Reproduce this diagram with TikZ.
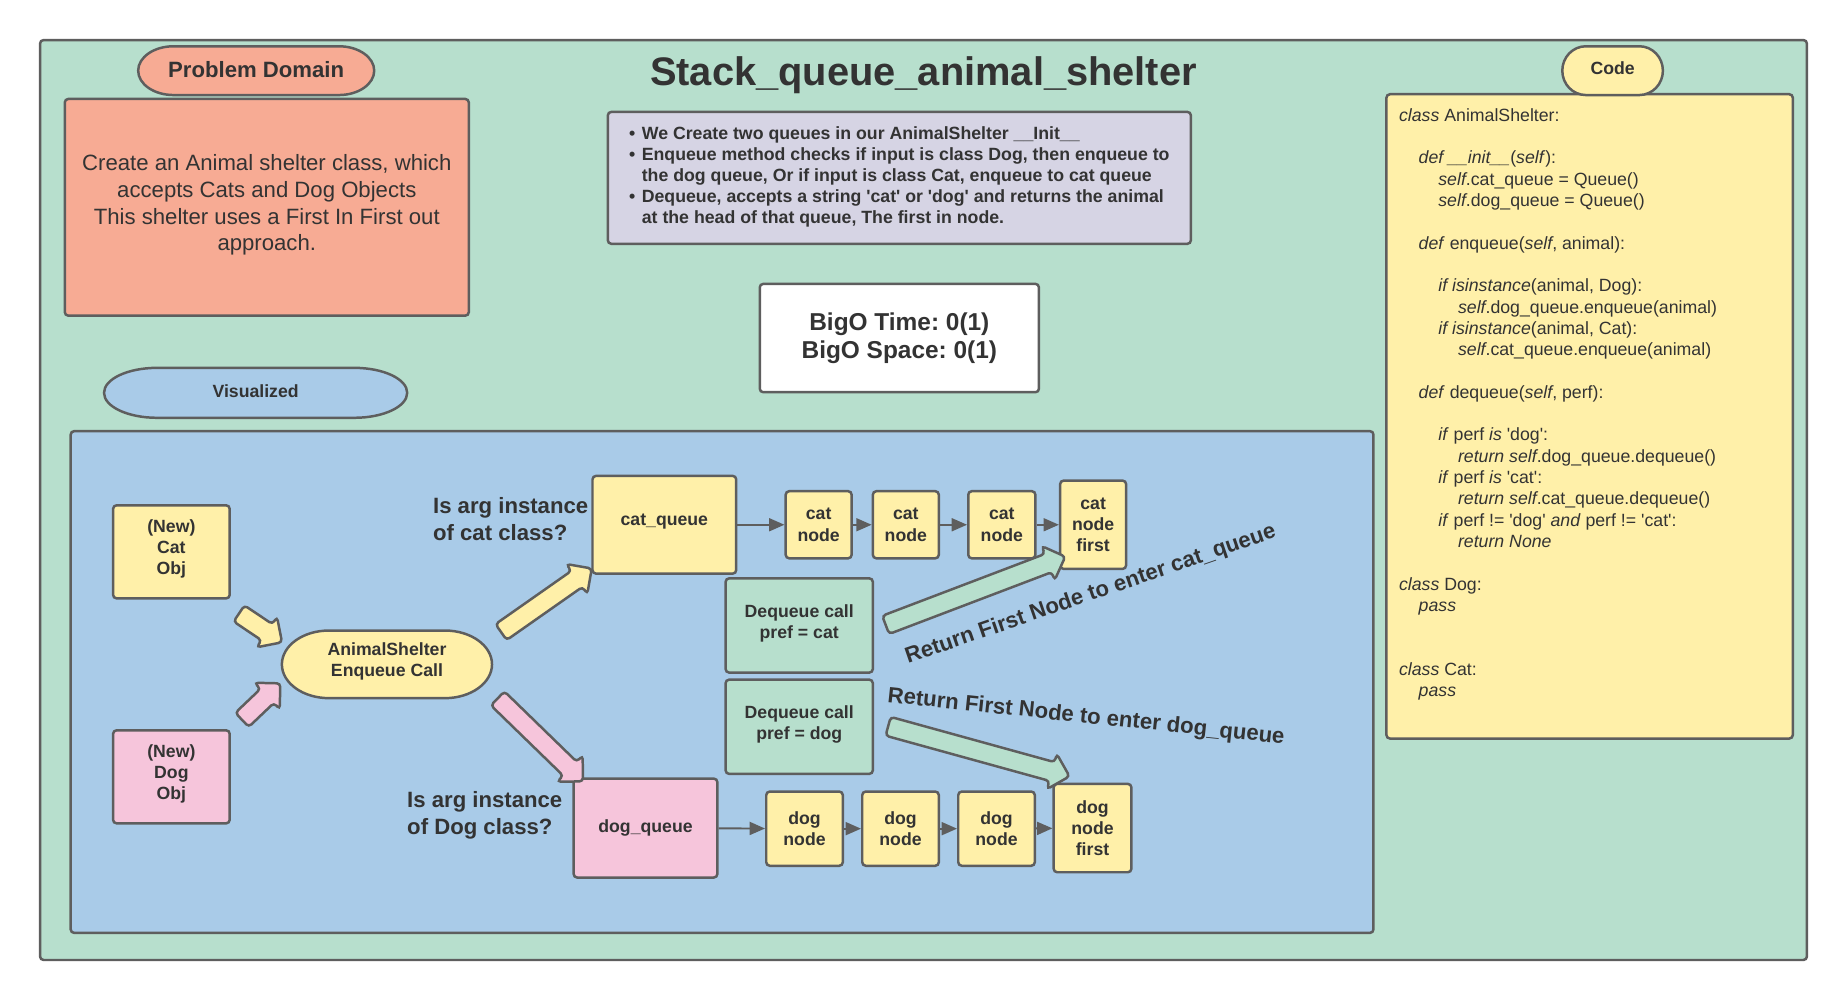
\documentclass[tikz,border=0pt]{standalone}
\usepackage{fontspec}
\setmainfont{Liberation Sans}
\usetikzlibrary{shapes.arrows,arrows.meta,calc}
\frenchspacing
\definecolor{bordc}{HTML}{5E5E5E}
\definecolor{txtc}{HTML}{333333}
\definecolor{mintc}{HTML}{B7DFCD}
\definecolor{salmc}{HTML}{F7AB94}
\definecolor{lavc}{HTML}{D6D4E4}
\definecolor{yelc}{HTML}{FFF0A9}
\definecolor{pinkc}{HTML}{F6C5DB}
\definecolor{bluec}{HTML}{A9CBE8}
\newcommand{\capsuleoutline}[3]{%
  \filldraw[fill=#3, draw=bordc, line width=0.6pt]
    let \p1=(#1.north west), \p2=(#1.south east), \n1={(\y1-\y2)/2} in
    (\x1+#2,\y1) -- (\x2-#2,\y1)
    arc[start angle=90, end angle=-90, x radius=#2, y radius=\n1]
    -- (\x1+#2,\y2)
    arc[start angle=270, end angle=90, x radius=#2, y radius=\n1] -- cycle;}
\newcommand{\blockarrow}[4]{%
  \path let \p1=(#2), \p2=(#3), \n1={atan2(\y2-\y1,\x2-\x1)}, \n2={veclen(\x2-\x1,\y2-\y1)} in
    node[barrow, fill=#4, rotate=\n1, minimum height=\n2] (#1) at ({(\x1+\x2)/2},{(\y1+\y2)/2}) {};}
\newcommand{\cia}{\hspace*{4.75pt}}
\newcommand{\cib}{\hspace*{9.5pt}}
\newcommand{\cic}{\hspace*{14.25pt}}
\begin{document}
\frenchspacing
\begin{tikzpicture}[x=0.1mm,y=-0.1mm,
  panel/.style={draw=bordc, line width=0.6pt, rounded corners=0.3mm, inner sep=0pt, text=txtc},
  sml/.style={font=\fontsize{4.27}{5.12}\selectfont\bfseries, text=txtc, align=center},
  med/.style={font=\fontsize{5.35}{6.54}\selectfont\bfseries, text=txtc, inner sep=0pt},
  conn/.style={draw=bordc, line width=0.45pt, -{Triangle[length=1.3mm,width=1.1mm]}},
  barrow/.style={single arrow, draw=bordc, line width=0.6pt, inner xsep=0pt, inner ysep=0.72mm, minimum width=2.9mm, single arrow head extend=0.72mm, rounded corners=0.3mm},
  capsule/.style={inner sep=0pt, draw=none}]
\fill[white] (0,0) rectangle (1568,849);
\useasboundingbox (0,0) rectangle (1568,849);

% outer panel
\node[panel, fill=mintc, minimum width=150mm, minimum height=78.1mm] (outer) at (784,424.5) {};

% problem domain
\node[capsule, minimum width=19.9mm, minimum height=4mm] (pdcap) at (217.5,60) {};
\capsuleoutline{pdcap}{3mm}{salmc}
\node[med] (pdtext) at (217.5,59) {Problem Domain};
\node[panel, fill=salmc, minimum width=34.3mm, minimum height=18.4mm] (pdbox) at (226.5,176) {};
\node[align=center, inner sep=0pt, text=txtc, font=\fontsize{5.35}{6.46}\selectfont] (pdboxtext) at (226.5,174)
  {Create an Animal shelter class, which\\accepts Cats and Dog Objects\\This shelter uses a First In First out\\approach.};

% title
\node[text=txtc, font=\fontsize{9.62}{11}\selectfont\bfseries] (title) at (784,64) {Stack\_queue\_animal\_shelter};

% bullets
\node[panel, fill=lavc, minimum width=49.5mm, minimum height=11.2mm] (bullets) at (763.5,151) {};
\node[inner sep=0pt, text=txtc, font=\fontsize{4.28}{5.12}\selectfont\bfseries] (bullettext) at (763.5,150.5) {%
  \begin{tabular}{@{}l@{\hspace{0.55mm}}l@{}}
  \textbullet & We Create two queues in our AnimalShelter \_\_Init\_\_\\
  \textbullet & Enqueue method checks if input is class Dog, then enqueue to\\
   & the dog queue, Or if input is class Cat, enqueue to cat queue\\
  \textbullet & Dequeue, accepts a string \textquotesingle cat\textquotesingle{} or \textquotesingle dog\textquotesingle{} and returns the animal\\
   & at the head of that queue, The first in node.
  \end{tabular}};

% BigO
\node[panel, fill=white, minimum width=23.7mm, minimum height=9.2mm, align=center,
  font=\fontsize{5.9}{6.83}\selectfont\bfseries] (bigo) at (763.5,287) {BigO Time: 0(1)\\BigO Space: 0(1)};

% visualized capsule
\node[capsule, minimum width=25.6mm, minimum height=4.1mm] (vizcap) at (217,333.5) {};
\capsuleoutline{vizcap}{4.5mm}{bluec}
\node[sml] (viztext) at (217,332) {Visualized};

% code
\node[panel, fill=yelc, minimum width=34.5mm, minimum height=54.7mm] (codebox) at (1349.5,353.5) {};
\node[capsule, minimum width=8.4mm, minimum height=4mm] (codecap) at (1369,60) {};
\capsuleoutline{codecap}{2mm}{yelc}
\node[sml] (codelabel) at (1369,58) {Code};
\node[anchor=north west, inner sep=0pt, text=txtc, font=\fontsize{4.28}{5.15}\selectfont] (codetext) at (1187,89.5) {%
\begin{tabular}{@{}l@{}}
\textit{class} AnimalShelter:\\
\\
\cia\textit{def \_\_init\_\_}(\textit{self}):\\
\cib\textit{self}.cat\_queue = Queue()\\
\cib\textit{self}.dog\_queue = Queue()\\
\\
\cia\textit{def} enqueue(\textit{self}, animal):\\
\\
\cib\textit{if isinstance}(animal, Dog):\\
\cic\textit{self}.dog\_queue.enqueue(animal)\\
\cib\textit{if isinstance}(animal, Cat):\\
\cic\textit{self}.cat\_queue.enqueue(animal)\\
\\
\cia\textit{def} dequeue(\textit{self}, perf):\\
\\
\cib\textit{if} perf \textit{is} \textquotesingle dog\textquotesingle:\\
\cic\textit{return self}.dog\_queue.dequeue()\\
\cib\textit{if} perf \textit{is} \textquotesingle cat\textquotesingle:\\
\cic\textit{return self}.cat\_queue.dequeue()\\
\cib\textit{if} perf != \textquotesingle dog\textquotesingle{} \textit{and} perf != \textquotesingle cat\textquotesingle:\\
\cic\textit{return None}\\
\\
\textit{class} Dog:\\
\cia\textit{pass}\\
\\
\\
\textit{class} Cat:\\
\cia\textit{pass}
\end{tabular}};

% visual panel
\node[panel, fill=bluec, minimum width=110.6mm, minimum height=42.6mm] (vizpanel) at (613,579) {};

\node[panel, sml, fill=yelc, minimum width=9.9mm, minimum height=7.9mm] (catobj) at (145.5,468.5) {};
\node[sml] (catobjtext) at (145.5,466) {(New)\\Cat\\Obj};
\node[panel, sml, fill=pinkc, minimum width=9.9mm, minimum height=7.9mm] (dogobj) at (145.5,659.5) {};
\node[sml] (dogobjtext) at (145.5,657) {(New)\\Dog\\Obj};

\node[capsule, minimum width=17.7mm, minimum height=5.6mm] (enq) at (328.5,564) {};
\capsuleoutline{enq}{4mm}{yelc}
\node[sml] (enqtext) at (328.5,561.5) {AnimalShelter\\Enqueue Call};

\node[med, align=left, anchor=west] (catq_q) at (367,440.5) {Is arg instance\\of cat class?};
\node[med, align=left, anchor=west] (dogq_q) at (345,692) {Is arg instance\\of Dog class?};

\node[panel, sml, fill=yelc, minimum width=12.2mm, minimum height=8.3mm] (cq) at (564,445.5) {};
\node[sml] (cqtext) at (564,443) {cat\_queue};
\node[panel, sml, fill=yelc, minimum width=5.6mm, minimum height=5.7mm] (cn1) at (695,445.5) {cat\\node};
\node[panel, sml, fill=yelc, minimum width=5.6mm, minimum height=5.7mm] (cn2) at (769,445.5) {cat\\node};
\node[panel, sml, fill=yelc, minimum width=5.7mm, minimum height=5.7mm] (cn3) at (850.5,445.5) {cat\\node};
\node[panel, sml, fill=yelc, minimum width=5.6mm, minimum height=7.5mm] (cnf) at (928,445.5) {cat\\node\\first};

\node[panel, sml, fill=pinkc, minimum width=12.2mm, minimum height=8.4mm] (dq) at (548,703) {dog\_queue};
\node[panel, sml, fill=yelc, minimum width=6.5mm, minimum height=6.3mm] (dn1) at (683,703.5) {dog\\node};
\node[panel, sml, fill=yelc, minimum width=6.5mm, minimum height=6.3mm] (dn2) at (764.5,703.5) {dog\\node};
\node[panel, sml, fill=yelc, minimum width=6.5mm, minimum height=6.3mm] (dn3) at (846,703.5) {dog\\node};
\node[panel, sml, fill=yelc, minimum width=6.6mm, minimum height=7.5mm] (dnf) at (927.5,703) {dog\\node\\first};

\node[panel, sml, fill=mintc, minimum width=12.5mm, minimum height=8mm] (deqcat) at (678.5,531) {};
\node[sml] (deqcattext) at (678.5,529) {Dequeue call\\pref = cat};
\node[panel, sml, fill=mintc, minimum width=12.5mm, minimum height=8mm] (deqdog) at (678.5,617) {};
\node[sml] (deqdogtext) at (678.5,615) {Dequeue call\\pref = dog};

\draw[conn] (cq) -- (cn1);
\draw[conn] (cn1) -- (cn2);
\draw[conn] (cn2) -- (cn3);
\draw[conn] (cn3) -- (cnf);
\draw[conn] (dq) -- (dn1);
\draw[conn] (dn1) -- (dn2);
\draw[conn] (dn2) -- (dn3);
\draw[conn] (dn3) -- (dnf);

\node[med, rotate=19] (retcat) at (926,505) {Return First Node to enter cat\_queue};
\node[med, rotate=-6] (retdog) at (922,609) {Return First Node to enter dog\_queue};

% block arrows
\coordinate (a1s) at (199.5,518.5); \coordinate (a1e) at (236,543);
\coordinate (a2s) at (202.5,614);   \coordinate (a2e) at (235,583);
\coordinate (a3s) at (422,539);     \coordinate (a3e) at (499,485);
\coordinate (a4s) at (419.5,590);   \coordinate (a4e) at (492,660.5);
\coordinate (a5s) at (748,532);     \coordinate (a5e) at (900.5,474);
\coordinate (a6s) at (750,615.5);   \coordinate (a6e) at (904,658);
\blockarrow{ba1}{a1s}{a1e}{yelc}
\blockarrow{ba2}{a2s}{a2e}{pinkc}
\blockarrow{ba3}{a3s}{a3e}{yelc}
\blockarrow{ba4}{a4s}{a4e}{pinkc}
\blockarrow{ba5}{a5s}{a5e}{mintc}
\blockarrow{ba6}{a6s}{a6e}{mintc}
\end{tikzpicture}
\end{document}
